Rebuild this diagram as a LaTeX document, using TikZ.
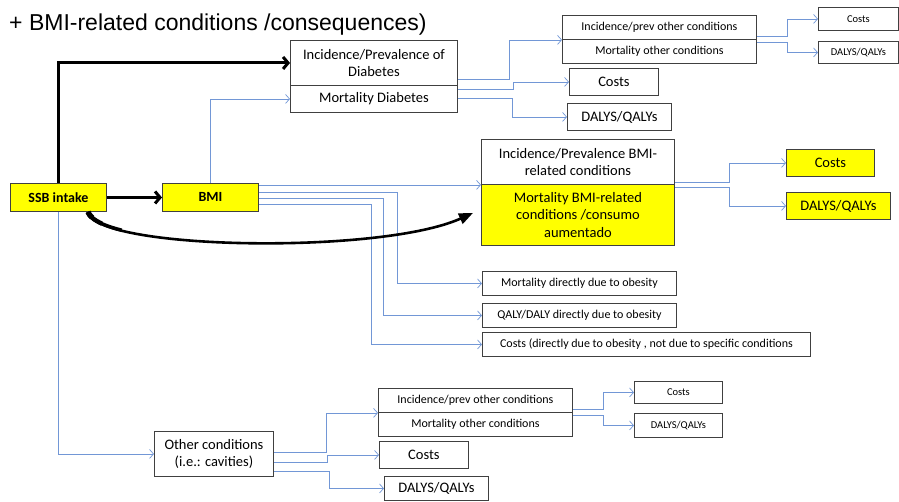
\documentclass[tikz,border=0pt]{standalone}
\usepackage{fontspec}
\setmainfont{Carlito}
\newfontfamily\titlefont{Liberation Sans}
\usetikzlibrary{arrows.meta}
\definecolor{boxgray}{RGB}{64,64,64}
\definecolor{yel}{RGB}{255,255,0}
\definecolor{bluc}{RGB}{114,151,214}
\begin{document}
\begin{tikzpicture}[x=1pt,y=-1pt,
  bx/.style={draw=boxgray, line width=0.9pt, fill=white, inner sep=0pt, align=center, anchor=north west, text=black},
  ybx/.style={bx, fill=yel},
  big/.style={font=\fontsize{14.5}{17.5}\selectfont},
  mid/.style={font=\fontsize{12}{14}\selectfont},
  sml/.style={font=\fontsize{10.5}{12}\selectfont},
  bld/.style={font=\fontsize{14}{17}\selectfont\bfseries},
  bl/.style={draw=bluc, line width=0.8pt, -{Straight Barb[length=4pt,width=9pt,line width=0.7pt]}},
  bk/.style={draw=black, line width=3pt, -{Straight Barb[length=5pt,width=12pt]}},
  taper/.style={draw=black, line cap=butt},
]
\useasboundingbox (0,0) rectangle (899,501);

\node[anchor=base west, inner sep=0pt, font=\titlefont\fontsize{23}{27}\selectfont] (title) at (9,30) {+ BMI-related conditions /consequences)};

% top diabetes branch
\node[bx,big,minimum width=167pt,minimum height=45pt] (dia1) at (290,40) {Incidence/Prevalence of\\Diabetes};
\node[bx,big,minimum width=167pt,minimum height=27pt] (dia2) at (290,85) {Mortality Diabetes};
\node[bx,mid,minimum width=194pt,minimum height=24pt] (toc1) at (562,15) {Incidence/prev other conditions};
\node[bx,mid,minimum width=194pt,minimum height=24pt] (toc2) at (562,39) {Mortality other conditions};
\node[bx,sml,minimum width=80pt,minimum height=23pt] (tcs) at (818,7) {Costs};
\node[bx,sml,minimum width=80pt,minimum height=22pt] (tdq) at (818,41) {DALYS/QALYs};
\node[bx,big,minimum width=89pt,minimum height=27pt] (mcs) at (569,68) {Costs};
\node[bx,big,minimum width=104pt,minimum height=27pt] (mdq) at (567,103) {DALYS/QALYs};

% SSB and BMI
\node[ybx,bld,minimum width=96pt,minimum height=28pt] (ssb) at (10,183) {SSB intake};
\node[ybx,bld,minimum width=96pt,minimum height=28pt] (bmi) at (162,183) {BMI};

% BMI-related
\node[bx,big,minimum width=193pt,minimum height=45pt] (br1) at (481,139) {Incidence/Prevalence BMI-\\related conditions};
\node[ybx,big,minimum width=193pt,minimum height=61pt] (br2) at (481,184) {Mortality BMI-related\\conditions /consumo\\aumentado};
\node[ybx,big,minimum width=88pt,minimum height=27pt] (ycs) at (786,149) {Costs};
\node[ybx,big,minimum width=104pt,minimum height=27pt] (ydq) at (786,192) {DALYS/QALYs};

% obesity direct
\node[bx,mid,minimum width=194pt,minimum height=24pt] (ob1) at (482,271) {Mortality directly due to obesity};
\node[bx,mid,minimum width=194pt,minimum height=24pt] (ob2) at (482,303) {QALY/DALY directly due to obesity};
\node[bx,mid,minimum width=328pt,minimum height=24pt] (ob3) at (482,332) {Costs (directly due to obesity , not due to specific conditions};

% other conditions
\node[bx,big,minimum width=119pt,minimum height=45pt] (oc) at (154,431) {Other conditions\\(i.e.: cavities)};
\node[bx,mid,minimum width=194pt,minimum height=24pt] (boc1) at (378,388) {Incidence/prev other conditions};
\node[bx,mid,minimum width=194pt,minimum height=24pt] (boc2) at (378,412) {Mortality other conditions};
\node[bx,sml,minimum width=88pt,minimum height=22pt] (bcs) at (634,381) {Costs};
\node[bx,sml,minimum width=88pt,minimum height=24pt] (bdq) at (634,413) {DALYS/QALYs};
\node[bx,big,minimum width=89pt,minimum height=27pt] (bmc) at (379,441) {Costs};
\node[bx,big,minimum width=104pt,minimum height=24pt] (bmd) at (384,476) {DALYS/QALYs};

% blue connectors
\draw[bl] (bmi.north) |- (dia2.west);
\draw[bl] (dia1.south east |- 0,79) -- (509,79) |- (toc1.south west);
\draw[bl] (dia2.east |- 0,89) -- (513,89) |- (mcs.west);
\draw[bl] (dia2.east |- 0,98) -- (512,98) |- (mdq.west);
\draw[bl] (toc1.south east |- 0,36) -- (787,36) |- (tcs.west);
\draw[bl] (toc2.east |- 0,42) -- (787,42) |- (tdq.west);

\draw[bl] (bmi.east |- br1.south west) -- (br1.south west);
\draw[bl] (bmi.east |- 0,192) -- (397,192) |- (ob1.west);
\draw[bl] (bmi.east |- 0,198) -- (383,198) |- (ob2.west);
\draw[bl] (bmi.east |- 0,204) -- (371,204) |- (ob3.west);
\draw[bl] (br1.south east |- 0,182) -- (729,182) |- (ycs.west);
\draw[bl] (br2.north east |- 0,187) -- (729,187) |- (ydq.west);

\draw[bl] (ssb.south) |- (oc.west);
\draw[bl] (oc.east |- 0,452) -- (326,452) |- (boc1.south west);
\draw[bl] (oc.east |- 0,462) -- (327,462) |- (bmc.west);
\draw[bl] (oc.east |- 0,471) -- (329,471) |- (bmd.west);
\draw[bl] (boc1.south east |- 0,409) -- (603,409) |- (bcs.west);
\draw[bl] (boc2.east |- 0,415) -- (603,415) |- (bdq.west);

% black arrows
\draw[bk] (ssb.north) |- (dia1.west);
\draw[bk] (ssb.east) -- (bmi.west);
\draw[draw=black, line width=2.6pt, -{Triangle[length=14pt,width=11pt]}] (ssb.south -| 88,0) .. controls (95,250) and (380,255) .. ([xshift=-8pt,yshift=2pt]br2.west);
% tapering start of the curved arrow
\draw[taper, line width=3.5pt] (ssb.south -| 88,0) .. controls (89.4,218.8) and (101.92,225.24) .. (121.8,230.21);
\draw[taper, line width=4.4pt] (ssb.south -| 88,0) .. controls (88.84,215.68) and (93.68,219.87) .. (101.72,223.55);
\draw[taper, line width=5.3pt] (ssb.south -| 88,0) .. controls (88.42,213.34) and (89.85,215.56) .. (92.16,217.64);
\end{tikzpicture}
\end{document}
